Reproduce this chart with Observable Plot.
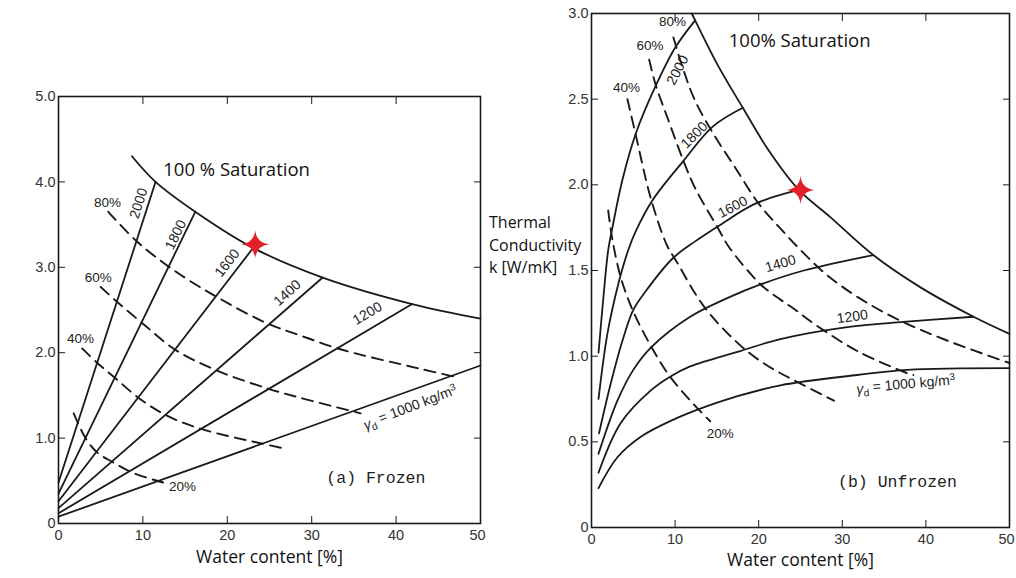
<!DOCTYPE html>
<html><head><meta charset="utf-8">
<script src="https://cdn.jsdelivr.net/npm/d3@7"></script>
<script src="https://cdn.jsdelivr.net/npm/@observablehq/plot@0.6"></script>
<style>
html,body{margin:0;padding:0;background:#fff;}
#wrap{position:relative;width:1016px;height:578px;overflow:hidden;background:#fff;}
#wrap svg{position:absolute;top:0;}
#ylab{position:absolute;left:489px;top:211px;font-family:"Open Sans";font-size:16px;line-height:22.5px;color:#111;z-index:5;white-space:nowrap;}
</style></head><body>
<div id="wrap"><div id="ylab">Thermal<br>Conductivity<br>k [W/mK]</div></div>
<script>
// ---------- tick values ----------
const xTickValues = [0, 10, 20, 30, 40];
const xLastTick = [50];
const xInnerTicks = [10, 20, 30, 40];
const yTicksFrozen = [0, 1, 2, 3, 4, 5];
const yInnerFrozen = [1, 2, 3, 4];
const yTicksUnfrozen = [0, 0.5, 1, 1.5, 2, 2.5, 3];
const yInnerUnfrozen = [0.5, 1, 1.5, 2, 2.5];

// ---------- (a) Frozen: dry density lines [water %, k] ----------
const frozenRho2000 = [[0, 0.48], [11.5, 4.00]];
const frozenRho1800 = [[0, 0.35], [16.2, 3.65]];
const frozenRho1600 = [[0, 0.26], [23.0, 3.22]];
const frozenRho1400 = [[0, 0.18], [31.3, 2.88]];
const frozenRho1200 = [[0, 0.12], [41.9, 2.57]];
const frozenRho1000 = [[0, 0.08], [50, 1.85]];
const frozenSat100 = [[8.7, 4.30], [11.5, 4.00], [16.2, 3.65], [23.0, 3.23], [31.3, 2.88], [41.9, 2.57], [50, 2.40]];
const frozenSat80 = [[5.9, 3.65], [9.1, 3.32], [13.3, 2.99], [18.8, 2.65], [24.8, 2.34], [28.7, 2.20], [33.4, 2.04], [42.5, 1.82], [47.3, 1.71]];
const frozenSat60 = [[5.0, 2.77], [7.0, 2.59], [10.0, 2.34], [13.9, 2.03], [18.8, 1.79], [24.8, 1.58], [28.7, 1.47], [35.8, 1.29]];
const frozenSat40 = [[2.8, 2.05], [4.6, 1.88], [6.75, 1.70], [9.5, 1.47], [12.7, 1.27], [16.8, 1.11], [23.9, 0.94], [26.7, 0.88]];
const frozenSat20 = [[1.8, 1.29], [3.2, 1.00], [4.6, 0.83], [6.4, 0.72], [8.9, 0.59], [12.4, 0.48]];
const frozenStar = [[23.3, 3.27]];

// ---------- (b) Unfrozen ----------
const unfrozenRho2000 = [[0.84, 1.02], [1.4, 1.33], [2.0, 1.62], [2.5, 1.75], [3.7, 2.03], [5.3, 2.30], [7.7, 2.58], [10.0, 2.80], [12.4, 2.96]];
const unfrozenRho1800 = [[0.84, 0.75], [1.9, 1.13], [3.2, 1.42], [4.4, 1.62], [5.3, 1.73], [7.3, 1.91], [11.0, 2.14], [14.5, 2.34], [18.1, 2.45]];
const unfrozenRho1600 = [[0.9, 0.55], [2.3, 0.84], [3.7, 1.09], [5.0, 1.27], [6.5, 1.38], [9.7, 1.57], [12.4, 1.67], [15.2, 1.76], [19.6, 1.89], [24.8, 1.97]];
const unfrozenRho1400 = [[0.84, 0.43], [3.1, 0.74], [5.0, 0.92], [7.1, 1.05], [11.8, 1.23], [16.3, 1.34], [20.3, 1.42], [25.4, 1.50], [33.7, 1.59]];
const unfrozenRho1200 = [[0.84, 0.32], [3.5, 0.61], [7.1, 0.80], [9.4, 0.88], [11.8, 0.94], [17.8, 1.03], [22.6, 1.10], [30.6, 1.17], [37.3, 1.20], [45.7, 1.23]];
const unfrozenRho1000 = [[0.84, 0.23], [3.1, 0.41], [5.9, 0.53], [9.8, 0.63], [13.9, 0.71], [17.0, 0.76], [22.6, 0.83], [31.8, 0.89], [37.8, 0.92], [50, 0.93]];
const unfrozenSat100 = [[12.0, 3.00], [12.4, 2.96], [15.2, 2.69], [18.1, 2.45], [21.2, 2.20], [24.8, 1.97], [28.6, 1.81], [33.7, 1.59], [39.4, 1.40], [45.7, 1.23], [50, 1.13]];
const unfrozenSat80 = [[9.8, 2.86], [11.0, 2.67], [12.4, 2.49], [14.8, 2.28], [17.2, 2.10], [20.0, 1.89], [22.5, 1.75], [25.0, 1.62], [28.0, 1.48], [32.0, 1.34], [36.8, 1.21], [42.6, 1.09], [50, 0.96]];
const unfrozenSat60 = [[6.9, 2.73], [7.7, 2.58], [9.1, 2.39], [11.0, 2.14], [12.4, 1.98], [15.1, 1.75], [16.4, 1.64], [20.2, 1.42], [22.6, 1.33], [24.4, 1.27], [26.6, 1.19], [31.8, 1.03], [37.8, 0.90], [38.5, 0.89]];
const unfrozenSat40 = [[4.3, 2.50], [5.3, 2.29], [7.1, 1.92], [9.0, 1.65], [10.2, 1.55], [13.6, 1.28], [18.1, 1.05], [21.2, 0.94], [24.6, 0.85], [29.0, 0.74]];
const unfrozenSat20 = [[2.0, 1.85], [2.5, 1.68], [3.5, 1.46], [5.0, 1.26], [7.1, 1.06], [9.4, 0.88], [12.4, 0.71], [14.2, 0.62]];
const unfrozenStar = [[25.0, 1.97]];

// ---------- annotation labels ----------
const curveLabels = ["2000", "1800", "1600", "1400", "1200", "γd = 1000 kg/m3", "80%", "60%", "40%", "20%"];
const frozenLabelX = [9.5, 13.9, 20.0, 27.1, 36.6, 41.7, 5.8, 4.7, 2.6, 14.7];
const frozenLabelY = [3.75, 3.38, 3.05, 2.70, 2.46, 1.35, 3.76, 2.88, 2.17, 0.43];
const frozenLabelRot = [-72, -64, -52, -42, -31, -21, 0, 0, 0, 0];
const unfrozenLabelX = [10.3, 12.3, 16.9, 22.6, 31.2, 37.6, 9.7, 7.0, 4.2, 15.4];
const unfrozenLabelY = [2.67, 2.29, 1.87, 1.54, 1.23, 0.83, 2.95, 2.81, 2.57, 0.55];
const unfrozenLabelRot = [-62, -45, -27, -16, -8, -5, 0, 0, 0, 0];
const saturationTitle = ["100 % Saturation", "100% Saturation"];
const panelTitles = ["(a) Frozen", "(b) Unfrozen"];
const panelTitleX = [37.6, 36.6];
const panelTitleY = [0.54, 0.27];
const satTitleX = [21.1, 24.9];
const satTitleY = [4.14, 2.84];
const xLabel = "Water content [%]";

// ---------- helpers ----------
const rows = (name, pts) => pts.map(([x, y]) => ({series: name, x, y}));
const labelRows = (xs, ys, rs) => curveLabels.map((t, i) => ({text: t, x: xs[i], y: ys[i], rotate: rs[i], pct: t.endsWith("%")}));

const sparkle = {
  draw(ctx, size) {
    const R = Math.sqrt(size / Math.PI);
    const c = R * 0.1;
    ctx.moveTo(0, -R);
    ctx.quadraticCurveTo(c, -c, R, 0);
    ctx.quadraticCurveTo(c, c, 0, R);
    ctx.quadraticCurveTo(-c, c, -R, 0);
    ctx.quadraticCurveTo(-c, -c, 0, -R);
    ctx.closePath();
  }
};

const INK = "#1a1a1a";
const DASH = "11,7";

function panel(cfg) {
  const yFmt = d => d === 0 ? "0" : d.toFixed(1);
  return Plot.plot({
    width: cfg.width, height: 578,
    marginLeft: cfg.ml, marginRight: cfg.mr, marginTop: cfg.mt, marginBottom: cfg.mb,
    x: {domain: [0, 50]},
    y: {domain: cfg.yDomain},
    style: {background: "transparent", fontFamily: "Liberation Sans", color: "#333", overflow: "visible"},
    marks: [
      // tick labels
      Plot.axisX({anchor: "bottom", ticks: xTickValues, tickSize: 0, tickPadding: 6, fontSize: 14.5, tickFormat: d => String(d), label: null}),
      Plot.axisX({anchor: "bottom", ticks: xLastTick, tickSize: 0, tickPadding: 6, fontSize: 14.5, dx: -3, tickFormat: d => String(d), label: null}),
      Plot.axisY({anchor: "left", ticks: cfg.yTicks, tickSize: 0, tickPadding: 3, fontSize: 14.5, tickFormat: yFmt, label: null}),
      // inward tick marks on all four sides
      Plot.axisX({anchor: "bottom", ticks: xInnerTicks, tickSize: 7, dy: -7, fill: "none", stroke: INK, label: null}),
      Plot.axisX({anchor: "top", ticks: xInnerTicks, tickSize: 7, dy: 7, fill: "none", stroke: INK, label: null}),
      Plot.axisY({anchor: "left", ticks: cfg.yInner, tickSize: 7, dx: 7, fill: "none", stroke: INK, label: null}),
      Plot.axisY({anchor: "right", ticks: cfg.yInner, tickSize: 7, dx: -7, fill: "none", stroke: INK, label: null}),
      Plot.frame({stroke: INK, strokeWidth: 1.6}),
      // solid lines (constant dry density + 100% saturation)
      Plot.line(cfg.solid, {x: "x", y: "y", z: "series", stroke: INK, strokeWidth: 1.8, curve: cfg.curve}),
      Plot.line(cfg.sat, {x: "x", y: "y", z: "series", stroke: INK, strokeWidth: 1.8, curve: "catmull-rom"}),
      // dashed lines (constant degree of saturation)
      Plot.line(cfg.dashed, {x: "x", y: "y", z: "series", stroke: INK, strokeWidth: 1.9, strokeDasharray: DASH, curve: "catmull-rom"}),
      // labels
      Plot.text(cfg.labels.filter(d => !d.pct), {x: "x", y: "y", text: "text", rotate: "rotate", fontSize: 14, fill: "#222", fontFamily: "Liberation Sans"}),
      Plot.text(cfg.labels.filter(d => d.pct), {x: "x", y: "y", text: "text", fontSize: 13.5, fill: "#222", fontFamily: "Liberation Sans"}),
      Plot.text([cfg.satTitle], {x: cfg.satX, y: cfg.satY, text: d => d, fontSize: 18.5, fill: "#111", fontFamily: "Open Sans"}),
      Plot.text([cfg.title], {x: cfg.titleX, y: cfg.titleY, text: d => d, fontSize: 16.5, fill: "#222", fontFamily: "Liberation Mono"}),
      Plot.text([xLabel], {frameAnchor: "bottom", dy: cfg.xlabDy, text: d => d, fontSize: 17.5, fill: "#111", fontFamily: "Open Sans"}),
      // red star
      Plot.dot(cfg.star.map(([x, y]) => ({x, y})), {x: "x", y: "y", symbol: sparkle, r: 14, fill: "#e3202a", stroke: "none"})
    ]
  });
}

const left = panel({
  width: 500, ml: 58, mr: 20, mt: 96, mb: 55, yDomain: [0, 5],
  yTicks: yTicksFrozen, yInner: yInnerFrozen, curve: "linear",
  solid: [].concat(rows("2000", frozenRho2000), rows("1800", frozenRho1800), rows("1600", frozenRho1600),
                   rows("1400", frozenRho1400), rows("1200", frozenRho1200), rows("1000", frozenRho1000)),
  sat: rows("100%", frozenSat100),
  dashed: [].concat(rows("80%", frozenSat80), rows("60%", frozenSat60), rows("40%", frozenSat40), rows("20%", frozenSat20)),
  labels: labelRows(frozenLabelX, frozenLabelY, frozenLabelRot),
  satTitle: saturationTitle[0], satX: satTitleX[0], satY: satTitleY[0],
  title: panelTitles[0], titleX: panelTitleX[0], titleY: panelTitleY[0],
  xlabDy: 39, star: frozenStar
});

const right = panel({
  width: 496, ml: 71, mr: 7, mt: 13, mb: 51, yDomain: [0, 3],
  yTicks: yTicksUnfrozen, yInner: yInnerUnfrozen, curve: "catmull-rom",
  solid: [].concat(rows("2000", unfrozenRho2000), rows("1800", unfrozenRho1800), rows("1600", unfrozenRho1600),
                   rows("1400", unfrozenRho1400), rows("1200", unfrozenRho1200), rows("1000", unfrozenRho1000)),
  sat: rows("100%", unfrozenSat100),
  dashed: [].concat(rows("80%", unfrozenSat80), rows("60%", unfrozenSat60), rows("40%", unfrozenSat40), rows("20%", unfrozenSat20)),
  labels: labelRows(unfrozenLabelX, unfrozenLabelY, unfrozenLabelRot),
  satTitle: saturationTitle[1], satX: satTitleX[1], satY: satTitleY[1],
  title: panelTitles[1], titleX: panelTitleX[1], titleY: panelTitleY[1],
  xlabDy: 38, star: unfrozenStar
});

// subscript d and superscript 3 in the gamma labels
for (const svg of [left, right]) {
  d3.select(svg).selectAll("text").each(function () {
    if (this.textContent === "γd = 1000 kg/m3") {
      const t = d3.select(this);
      t.text(null);
      t.append("tspan").attr("font-style", "italic").text("γ");
      t.append("tspan").attr("font-size", "0.72em").attr("dy", "0.3em").text("d");
      t.append("tspan").attr("dy", "-0.3em").text(" = 1000 kg/m");
      t.append("tspan").attr("font-size", "0.7em").attr("dy", "-0.45em").text("3");
    }
  });
}

left.style.left = "0px";
right.style.left = "520px";
document.getElementById("wrap").append(left, right);
</script></body></html>
